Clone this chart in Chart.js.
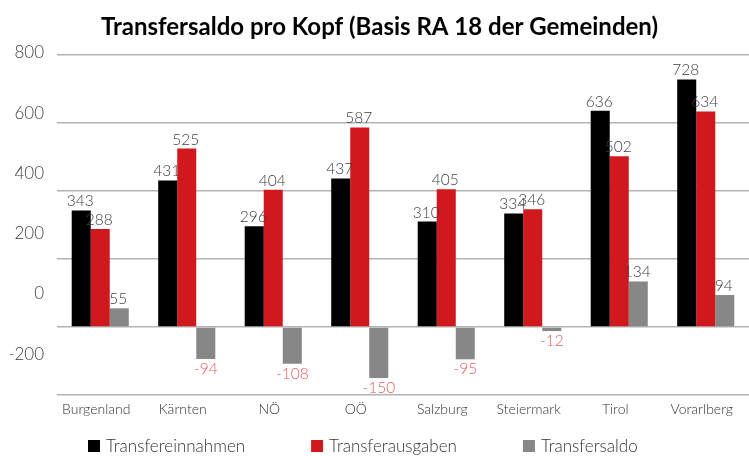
<!DOCTYPE html>
<html><head><meta charset="utf-8">
<script src="https://cdn.jsdelivr.net/npm/chart.js@4.4.1/dist/chart.umd.min.js"></script>
<style>html,body{margin:0;padding:0;background:#fff}canvas{display:block}</style>
</head><body>
<canvas id="c" width="749" height="456"></canvas>
<script>
const categories = ['Burgenland','Kärnten','NÖ','OÖ','Salzburg','Steiermark','Tirol','Vorarlberg'];
const transfereinnahmen = [343, 431, 296, 437, 310, 334, 636, 728];
const transferausgaben  = [288, 525, 404, 587, 405, 346, 502, 634];
const transfersaldo     = [55, -94, -108, -150, -95, -12, 134, 94];
const yTickLabels = [800, 600, 400, 200, 0, -200];
const seriesNames = ['Transfereinnahmen', 'Transferausgaben', 'Transfersaldo'];
const seriesColors = ['#000000', '#d0181d', '#878787'];
const seriesValues = [transfereinnahmen, transferausgaben, transfersaldo];

const FONT = 'Lato, "Open Sans", sans-serif';

const valueLabels = {
  id: 'valueLabels',
  afterDatasetsDraw(chart) {
    const ctx = chart.ctx;
    ctx.save();
    ctx.font = '300 15.5px ' + FONT;
    ctx.textAlign = 'center';
    ctx.textBaseline = 'alphabetic';
    chart.data.datasets.forEach((ds, di) => {
      const meta = chart.getDatasetMeta(di);
      meta.data.forEach((el, i) => {
        const v = ds.data[i];
        if (v >= 0) {
          ctx.fillStyle = '#404040';
          ctx.fillText(String(v), el.x - 1, el.y - 4);
        } else {
          ctx.fillStyle = '#e35d5d';
          ctx.fillText(String(v), el.x, el.y + 15);
        }
      });
    });
    ctx.restore();
  }
};

const bottomLegend = {
  id: 'bottomLegend',
  afterDraw(chart) {
    const ctx = chart.ctx;
    ctx.save();
    ctx.font = '300 17px ' + FONT;
    ctx.textBaseline = 'middle';
    ctx.textAlign = 'left';
    let x = 88;
    const y = 446;
    chart.data.datasets.forEach(ds => {
      ctx.fillStyle = ds.backgroundColor;
      ctx.fillRect(x, y - 6, 12, 12);
      ctx.fillStyle = '#333333';
      ctx.fillText(ds.label, x + 18, y + 1);
      x += 18 + ctx.measureText(ds.label).width + 66;
    });
    ctx.restore();
  }
};

new Chart(document.getElementById('c'), {
  type: 'bar',
  data: {
    labels: categories,
    datasets: seriesNames.map((n, i) => ({
      label: n,
      data: seriesValues[i],
      backgroundColor: seriesColors[i],
      borderWidth: 0,
      categoryPercentage: 0.66,
      barPercentage: 1.0,
      yAxisID: 'y'
    }))
  },
  options: {
    responsive: false,
    animation: false,
    layout: { padding: { left: 10, right: 0, top: 0, bottom: 26 } },
    plugins: {
      legend: { display: false },
      tooltip: { enabled: false },
      title: {
        display: true,
        text: 'Transfersaldo pro Kopf (Basis RA 18 der Gemeinden)',
        color: '#000',
        font: { family: FONT, size: 24, weight: 'bold', lineHeight: 1.1 },
        padding: { top: 14, bottom: 14.6 }
      }
    },
    scales: {
      x: {
        grid: { display: false, drawTicks: false },
        border: { display: false },
        ticks: { color: '#333', font: { family: FONT, size: 14, weight: '300' }, padding: 6, labelOffset: -4, maxRotation: 0, autoSkip: false },
        afterFit(a) { a.height = 35; }
      },
      y: {
        min: -200, max: 800, position: 'left',
        ticks: { display: false, stepSize: 200 },
        grid: { color: '#b3b3b3', lineWidth: 1.5, drawTicks: false },
        border: { display: false },
        afterFit(a) { a.width = 0; }
      },
      yl: {
        type: 'linear', position: 'left', min: -268.7, max: 859,
        grid: { display: false, drawTicks: false },
        border: { display: false },
        ticks: { color: '#404040', font: { family: FONT, size: 17, weight: '300' }, padding: 13, labelOffset: -20 },
        afterBuildTicks(a) { a.ticks = yTickLabels.map(v => ({ value: v })); },
        afterFit(a) { a.width = 47; }
      }
    }
  },
  plugins: [valueLabels, bottomLegend]
});
</script>
</body></html>
